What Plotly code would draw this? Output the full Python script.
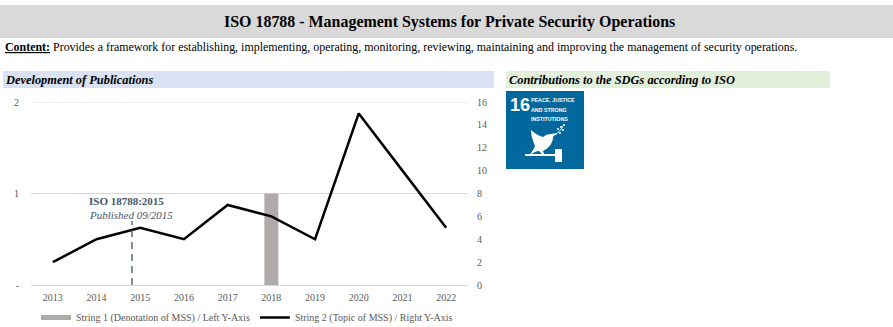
import plotly.graph_objects as go

# Publication counts per year
years = [2013, 2014, 2015, 2016, 2017, 2018, 2019, 2020, 2021, 2022]
topic_counts = [2, 4, 5, 4, 7, 6, 4, 15, 10, 5]
denotation_years = [2018]
denotation_counts = [1]
publication_x = [2014.81, 2014.81]
publication_y = [0, 5.6]
left_ticks = [0, 1, 2]
left_labels = ["-", "1", "2"]
right_ticks = [0, 2, 4, 6, 8, 10, 12, 14, 16]

W, H = 893, 327
SERIF = "Liberation Serif"
SANS = "Liberation Sans"
GREY = "#595959"


def px(x):
    return x / W


def py(y):
    return 1 - y / H


fig = go.Figure()

fig.add_trace(go.Bar(x=denotation_years, y=denotation_counts, width=0.32,
                     marker=dict(color="#afabab", line_width=0),
                     showlegend=False, yaxis="y", xaxis="x"))

# Wide swatch for the bar series in the legend
fig.add_trace(go.Scatter(x=[None], y=[None], mode="lines", yaxis="y", xaxis="x",
                         name="String 1 (Denotation of MSS) / Left Y-Axis",
                         line=dict(color="#afabab", width=5)))

fig.add_trace(go.Scatter(x=years, y=topic_counts, mode="lines", yaxis="y2", xaxis="x",
                         name="String 2 (Topic of MSS) / Right Y-Axis",
                         line=dict(color="black", width=2.5)))

# Publication marker for the 2015 edition
fig.add_trace(go.Scatter(x=publication_x, y=publication_y, mode="lines", yaxis="y2", xaxis="x",
                         showlegend=False,
                         line=dict(color="#44546a", width=1.3, dash="7px,5px")))

fig.update_layout(
    width=W, height=H, autosize=False,
    margin=dict(l=0, r=0, t=0, b=0, autoexpand=False),
    paper_bgcolor="white", plot_bgcolor="white",
    font=dict(family=SERIF, size=10, color=GREY),
    barmode="overlay",
    xaxis=dict(domain=[px(31), px(468)], range=[2012.5, 2022.5], tickvals=years,
               showgrid=False, zeroline=False, showline=True, linecolor="#d9d9d9", linewidth=1,
               ticks="outside", ticklen=3, tickcolor="rgba(0,0,0,0)",
               tickfont=dict(size=10, color=GREY), anchor="y"),
    yaxis=dict(domain=[py(285), py(102)], range=[0, 2], tickvals=left_ticks, ticktext=left_labels,
               showgrid=True, gridcolor="#d9d9d9", gridwidth=1, zeroline=False, showline=False,
               ticks="outside", ticklen=9, tickcolor="rgba(0,0,0,0)",
               tickfont=dict(size=10, color=GREY), anchor="x"),
    yaxis2=dict(domain=[py(285), py(102)], range=[0, 16], tickvals=right_ticks, overlaying="y",
                side="right", showgrid=False, zeroline=False, showline=False,
                ticks="outside", ticklen=6, tickcolor="rgba(0,0,0,0)",
                tickfont=dict(size=10, color=GREY), anchor="x"),
    # Pixel-sized frame for the SDG tile artwork
    xaxis3=dict(domain=[px(506), px(584)], range=[0, 78], visible=False, anchor="y3", fixedrange=True),
    yaxis3=dict(domain=[py(169), py(91)], range=[78, 0], visible=False, anchor="x3", fixedrange=True),
    legend=dict(orientation="h", x=px(247), xanchor="center", y=py(317.5), yanchor="middle",
                bgcolor="rgba(0,0,0,0)", font=dict(size=10, color=GREY),
                itemwidth=30, tracegroupgap=0),
)

# Gridline along the top of the left axis, which the axis itself leaves out at its range end
fig.add_shape(type="line", xref="x domain", yref="y", x0=0, x1=1, y0=left_ticks[-1], y1=left_ticks[-1],
              line=dict(color="#d9d9d9", width=1), layer="below")


def band(x0, x1, y0, y1, colour):
    fig.add_shape(type="rect", xref="paper", yref="paper", x0=px(x0), x1=px(x1), y0=py(y0), y1=py(y1),
                  fillcolor=colour, line_width=0, layer="below")


band(0, 893, 5, 38, "#d9d9d9")
band(3, 494, 71, 88, "#d9e1f2")
band(506, 830, 71, 88, "#e2efda")


def label(x, y, text, size, colour="black", xanchor="left", family=SERIF):
    fig.add_annotation(xref="paper", yref="paper", x=px(x), y=py(y), text=text, showarrow=False,
                       xanchor=xanchor, yanchor="middle", align="left",
                       font=dict(family=family, size=size, color=colour), borderpad=0)


label(449.5, 22, "<b>ISO 18788 - Management Systems for Private Security Operations</b>", 15.95, xanchor="center")
label(4, 47, "<b><u>Content:</u></b> Provides a framework for establishing, implementing, operating, "
             "monitoring, reviewing, maintaining and improving the management of security operations.", 11.93)
label(4, 80, "<b><i>Development of Publications</i></b>", 12.4)
label(508, 80, "<b><i>Contributions to the SDGs according to ISO</i></b>", 12.4)
label(88, 201, "<b>ISO 18788:2015</b>", 11, "#44546a")
label(88, 215, "<i>Published 09/2015</i>", 11, "#44546a")


# SDG 16 tile
def tile(kind, **kw):
    fig.add_shape(type=kind, xref="x3", yref="y3", line_width=0, fillcolor="white", **kw)


fig.add_shape(type="rect", xref="x3", yref="y3", x0=0, x1=78, y0=0, y1=78, fillcolor="#00689d", line_width=0)
# dove
tile("path", path="M 25 39 C 30 43 33 45 37 46 C 39 44 42 43 45 43 L 51 42 L 47 46 C 47 52 43 57 37 60 "
                  "L 38 63 L 36 63 L 33 60 C 30 60 27 62 24 64 C 26 60 28 58 29 55 C 27 50 25 45 25 39 Z")
# olive branch
fig.add_shape(type="path", xref="x3", yref="y3", line=dict(color="white", width=1),
              path="M 49 44 C 52 42 55 39 57 35")
for bx, by in [(52, 38), (55, 36), (57, 39), (54, 42), (58, 34)]:
    tile("circle", x0=bx - 1, x1=bx + 1, y0=by - 1, y1=by + 1)
# gavel
tile("rect", x0=19, x1=49, y0=63, y1=65)
tile("rect", x0=49, x1=56, y0=58, y1=71)

label(509, 105, "<b>16</b>", 18, "white", family=SANS)
label(530, 100, "<b>PEACE, JUSTICE</b>", 5.3, "white", family=SANS)
label(530, 109.5, "<b>AND STRONG</b>", 5.3, "white", family=SANS)
label(530, 119, "<b>INSTITUTIONS</b>", 5.3, "white", family=SANS)

fig.write_html("out.html")
